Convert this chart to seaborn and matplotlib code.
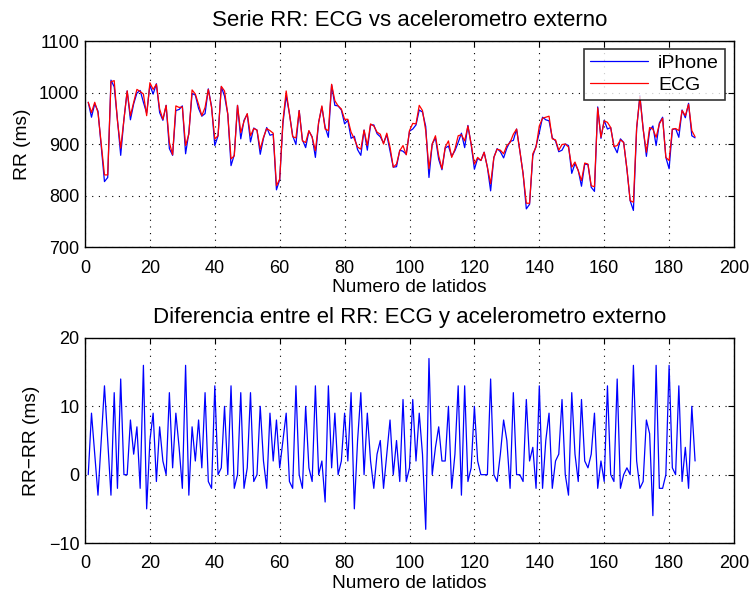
import matplotlib
matplotlib.use("Agg")
import matplotlib.pyplot as plt
import numpy as np
import pandas as pd
import seaborn as sns

# ---------------- data ----------------
beats = list(range(1, 189))

rr_ecg = [
    981, 961, 981, 961, 900, 840, 840, 1021, 1023, 945,
    892, 948, 1003, 955, 981, 1006, 1002, 997, 955, 1019,
    1006, 1016, 968, 948, 975, 903, 879, 974, 971, 972,
    897, 919, 1005, 997, 977, 955, 971, 1006, 971, 910,
    916, 1012, 1003, 958, 871, 877, 975, 922, 944, 959,
    916, 930, 927, 890, 913, 930, 926, 921, 819, 832,
    945, 1003, 958, 914, 912, 965, 906, 903, 926, 913,
    887, 942, 974, 929, 926, 1016, 984, 974, 968, 948,
    948, 923, 910, 894, 890, 927, 897, 939, 935, 923,
    919, 900, 921, 894, 855, 861, 887, 897, 879, 926,
    940, 939, 975, 965, 926, 852, 900, 916, 877, 852,
    894, 906, 874, 890, 916, 918, 906, 935, 900, 861,
    874, 868, 884, 855, 823, 874, 890, 888, 881, 897,
    903, 919, 929, 887, 842, 785, 785, 881, 894, 935,
    950, 952, 954, 910, 908, 888, 899, 900, 894, 855,
    865, 848, 829, 863, 861, 819, 817, 970, 913, 945,
    942, 932, 895, 897, 908, 903, 852, 790, 787, 932,
    992, 929, 884, 932, 929, 913, 939, 950, 874, 868,
    929, 930, 926, 965, 955, 977, 926, 914,
]

rr_diff = [
    0, 9, 3, -3, 5, 13, 5, -3, 12, -2,
    14, 0, 0, 8, 3, 7, -2, 16, -5, 5,
    9, -1, 7, 2, 0, 12, 1, 9, 4, -2,
    16, -3, 7, 2, 8, 1, 12, -1, -2, 13,
    0, 1, 10, 0, 13, -2, 0, 12, -2, 1,
    12, -1, 0, 10, 2, -2, 9, 2, 8, 1,
    5, 9, -1, -2, 13, 0, -2, 10, 1, -1,
    13, 0, 2, -4, 13, 1, 9, 0, 2, 9,
    2, 12, -5, 5, 12, 0, 9, 2, -2, 3,
    5, -2, 3, 8, 0, 5, -1, 11, -1, 1,
    11, 2, 9, 3, -8, 17, 0, 4, 7, 2,
    2, 10, -2, 3, 13, -3, 13, -1, 1, 10,
    2, 0, 0, 0, 14, 0, -1, 3, 8, 5,
    -2, 12, 0, 0, -1, 11, 2, 4, -2, 13,
    -2, 5, 9, -2, 2, 3, 11, 0, -3, 12,
    3, -1, 11, 2, 1, 3, 9, -2, 2, -1,
    13, 0, -1, 14, -2, 0, 1, 0, 16, 2,
    -2, -1, 8, 6, -6, 16, -2, -2, 0, 16,
    1, 0, 13, -1, 4, -2, 10, 2,
]

rr_iphone = [e - d for e, d in zip(rr_ecg, rr_diff)]

series_names = ["iPhone", "ECG"]
series_colors = ["#0000ff", "#ff0000"]

x_ticks = list(range(0, 201, 20))
y_ticks_top = [700, 800, 900, 1000, 1100]
y_ticks_bot = [-10, 0, 10, 20]

# ---------------- style ----------------
sns.set_style("white")
plt.rcParams["font.family"] = ["Liberation Sans", "DejaVu Sans"]
plt.rcParams["axes.unicode_minus"] = True
plt.rcParams["text.color"] = "black"
plt.rcParams["axes.labelcolor"] = "black"
plt.rcParams["xtick.color"] = "black"
plt.rcParams["ytick.color"] = "black"
plt.rcParams["xtick.labelcolor"] = "black"
plt.rcParams["ytick.labelcolor"] = "black"

df_top = pd.DataFrame({
    "beat": beats * 2,
    "rr": rr_iphone + rr_ecg,
    "serie": [series_names[0]] * len(beats) + [series_names[1]] * len(beats),
})
df_bot = pd.DataFrame({"beat": beats, "diff": rr_diff})

fig = plt.figure(figsize=(7.51, 5.94), dpi=100)
W, H = 751, 594
def rect(l, t, r, b):
    return [l / W, 1 - b / H, (r - l) / W, (b - t) / H]

ax1 = fig.add_axes(rect(85, 41, 734, 247))
ax2 = fig.add_axes(rect(85, 338, 734, 543))

TICK_FS = 13
LABEL_FS = 13.8
TITLE_FS = 16

sns.lineplot(data=df_top, x="beat", y="rr", hue="serie",
             palette=dict(zip(series_names, series_colors)),
             hue_order=series_names, linewidth=0.9, ax=ax1, legend=True)
sns.lineplot(data=df_bot, x="beat", y="diff", color=series_colors[0],
             linewidth=0.9, ax=ax2)

def style(ax, yticks, ylabel, title):
    ax.set_xlim(0, 200)
    ax.set_ylim(yticks[0], yticks[-1])
    ax.set_xticks(x_ticks)
    ax.set_yticks(yticks)
    ax.set_xlabel("Numero de latidos", fontsize=LABEL_FS, labelpad=2, color="black")
    ax.set_ylabel(ylabel, fontsize=LABEL_FS, labelpad=6, color="black")
    ax.set_title(title, fontsize=TITLE_FS, pad=11, color="black")
    ax.tick_params(axis="both", which="both", direction="in", length=4,
                   width=0.8, top=True, right=True, labelsize=TICK_FS,
                   color="black", labelcolor="black")
    ax.tick_params(axis="x", pad=9)
    ax.tick_params(axis="y", pad=4)
    ax.grid(True, color="black", linestyle=(0, (1, 5)), linewidth=0.8)
    for s in ax.spines.values():
        s.set_visible(True)
        s.set_color("black")
        s.set_linewidth(1.0)
    ax.set_facecolor("white")

style(ax1, y_ticks_top, "RR (ms)", "Serie RR: ECG vs acelerometro externo")
style(ax2, y_ticks_bot, "RR\u2212RR (ms)", "Diferencia entre el RR: ECG y acelerometro externo")

leg = ax1.legend(loc="upper right", bbox_to_anchor=(0.986, 0.962),
                 fontsize=14, frameon=True, fancybox=False,
                 edgecolor="black", handlelength=3.0, handletextpad=0.5,
                 borderpad=0.3, labelspacing=0.2, borderaxespad=0)
leg.get_frame().set_linewidth(1.2)
for text in leg.get_texts():
    text.set_color("black")
for line in leg.get_lines():
    line.set_linewidth(0.9)

fig.savefig("out.png", dpi=100, facecolor="white")
